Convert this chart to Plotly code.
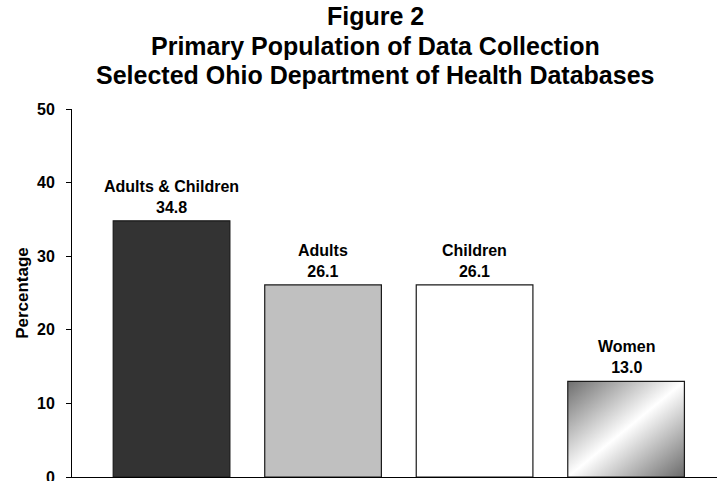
import base64
import plotly.graph_objects as go

# Share of selected ODH databases by primary population
categories = ["Adults & Children", "Adults", "Children", "Women"]
percentages = [34.8, 26.1, 26.1, 13.0]
bar_colors = ["#333333", "#c0c0c0", "#ffffff", "rgba(0,0,0,0)"]
y_ticks = [0, 10, 20, 30, 40, 50]

title_lines = [
    "Figure 2",
    "Primary Population of Data Collection",
    "Selected Ohio Department of Health Databases",
]

FONT = "Liberation Sans, Arial, Helvetica, sans-serif"
BAR_WIDTH = 0.77

# plot-area geometry in pixels (used to place the title lines)
W, H = 717, 481
M_L, M_R, M_T, M_B = 72, 0, 109, 4
PLOT_W = W - M_L - M_R
PLOT_H = H - M_T - M_B

x_pos = list(range(len(categories)))

fig = go.Figure()
fig.add_trace(go.Bar(
    x=x_pos,
    y=percentages,
    width=BAR_WIDTH,
    marker=dict(color=bar_colors, line=dict(color="#1a1a1a", width=1.2)),
    hoverinfo="skip",
))

# Diagonal grey-white-grey gradient for the last bar
grad_svg = (
    '<svg xmlns="http://www.w3.org/2000/svg" width="120" height="100" '
    'viewBox="0 0 120 100" preserveAspectRatio="none">'
    '<defs><linearGradient id="g" x1="0" y1="0" x2="1" y2="1">'
    '<stop offset="0" stop-color="#6e6e6e"/>'
    '<stop offset="0.5" stop-color="#ffffff"/>'
    '<stop offset="1" stop-color="#6a6a6a"/>'
    '</linearGradient></defs>'
    '<rect width="120" height="100" fill="url(#g)"/></svg>'
)
grad_uri = "data:image/svg+xml;base64," + base64.b64encode(grad_svg.encode()).decode()
last = len(categories) - 1
fig.add_layout_image(dict(
    source=grad_uri,
    xref="x", yref="y",
    x=x_pos[last] - BAR_WIDTH / 2, y=percentages[last],
    sizex=BAR_WIDTH, sizey=percentages[last],
    xanchor="left", yanchor="top",
    sizing="stretch", layer="below",
))

# Category name and value above each bar
for xi, name, val in zip(x_pos, categories, percentages):
    fig.add_annotation(
        x=xi, y=val, xref="x", yref="y",
        text=f"<b>{name}</b><br><b>{val:.1f}</b>",
        showarrow=False, yanchor="bottom", yshift=3,
        font=dict(family=FONT, size=16, color="#000000"),
        align="center",
    )

# Three-line centred title above the plot area
title_centre_x = 375
title_rows_y = [16, 46, 75]
for line, row_y in zip(title_lines, title_rows_y):
    fig.add_annotation(
        x=(title_centre_x - M_L) / PLOT_W,
        y=(H - M_B - row_y) / PLOT_H,
        xref="paper", yref="paper",
        text=f"<b>{line}</b>", showarrow=False,
        xanchor="center", yanchor="middle",
        font=dict(family=FONT, size=25, color="#000000"),
    )

fig.update_layout(
    width=W, height=H,
    margin=dict(l=M_L, r=M_R, t=M_T, b=M_B, autoexpand=False),
    paper_bgcolor="white", plot_bgcolor="white",
    showlegend=False,
    xaxis=dict(
        range=[-0.657, 3.60], automargin=False,
        showticklabels=False, ticks="", showgrid=False, zeroline=False,
        showline=True, linecolor="#000000", linewidth=1,
    ),
    yaxis=dict(
        range=[0, 50], tickvals=y_ticks, ticktext=[str(v) for v in y_ticks],
        automargin=False,
        ticks="outside", ticklen=5, tickcolor="#000000", tickwidth=1,
        ticklabelstandoff=8, ticklabeloverflow="allow",
        showgrid=False, zeroline=False,
        showline=True, linecolor="#000000", linewidth=1,
        tickfont=dict(family=FONT, size=16, color="#000000", weight="bold"),
        title=dict(text="<b>Percentage</b>", standoff=4,
                   font=dict(family=FONT, size=17, color="#000000")),
    ),
)

fig.write_html("out.html")
